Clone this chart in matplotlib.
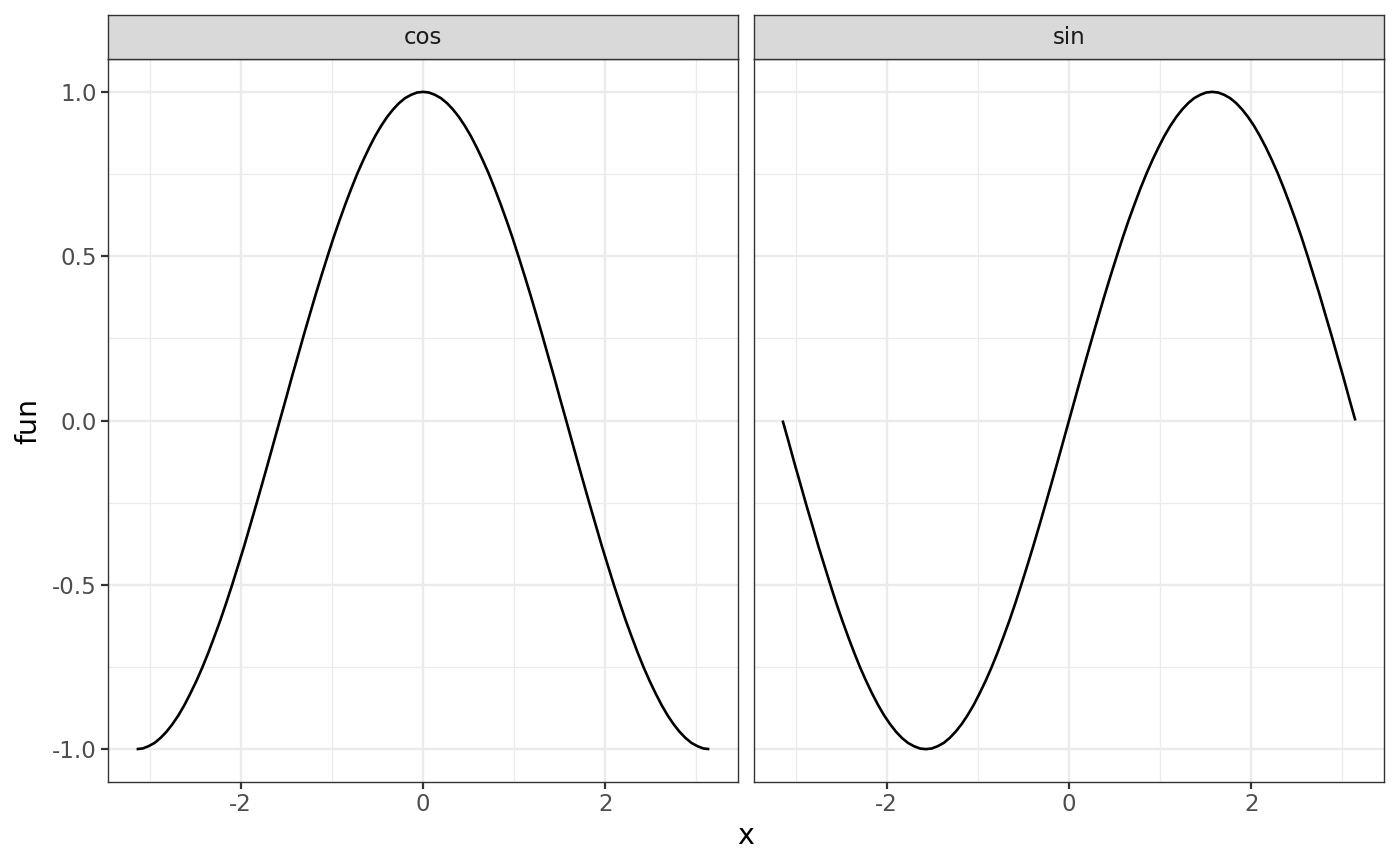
import matplotlib
matplotlib.use('Agg')
from matplotlib import pyplot as plt

# values, x in steps of pi/48
x_vals = [-3.142, -3.076, -3.011, -2.945, -2.880, -2.814, -2.749, -2.683, -2.618,
          -2.553, -2.487, -2.422, -2.356, -2.291, -2.225, -2.160, -2.094, -2.029,
          -1.963, -1.898, -1.833, -1.767, -1.702, -1.636, -1.571, -1.505, -1.440,
          -1.374, -1.309, -1.244, -1.178, -1.113, -1.047, -0.982, -0.916, -0.851,
          -0.785, -0.720, -0.654, -0.589, -0.524, -0.458, -0.393, -0.327, -0.262,
          -0.196, -0.131, -0.065,
          0.000,
          0.065, 0.131, 0.196, 0.262, 0.327, 0.393, 0.458, 0.524, 0.589,
          0.654, 0.720, 0.785, 0.851, 0.916, 0.982, 1.047, 1.113, 1.178,
          1.244, 1.309, 1.374, 1.440, 1.505, 1.571, 1.636, 1.702, 1.767,
          1.833, 1.898, 1.963, 2.029, 2.094, 2.160, 2.225, 2.291, 2.356,
          2.422, 2.487, 2.553, 2.618, 2.683, 2.749, 2.814, 2.880, 2.945,
          3.011, 3.076, 3.142]

cos_vals = [-1.000, -0.998, -0.991, -0.981, -0.966, -0.947, -0.924, -0.897, -0.866,
            -0.831, -0.793, -0.752, -0.707, -0.659, -0.609, -0.556, -0.500, -0.442,
            -0.383, -0.321, -0.259, -0.195, -0.131, -0.065, 0.000, 0.065, 0.131,
            0.195, 0.259, 0.321, 0.383, 0.442, 0.500, 0.556, 0.609, 0.659,
            0.707, 0.752, 0.793, 0.831, 0.866, 0.897, 0.924, 0.947, 0.966,
            0.981, 0.991, 0.998,
            1.000,
            0.998, 0.991, 0.981, 0.966, 0.947, 0.924, 0.897, 0.866, 0.831,
            0.793, 0.752, 0.707, 0.659, 0.609, 0.556, 0.500, 0.442, 0.383,
            0.321, 0.259, 0.195, 0.131, 0.065, 0.000, -0.065, -0.131, -0.195,
            -0.259, -0.321, -0.383, -0.442, -0.500, -0.556, -0.609, -0.659, -0.707,
            -0.752, -0.793, -0.831, -0.866, -0.897, -0.924, -0.947, -0.966, -0.981,
            -0.991, -0.998, -1.000]

sin_vals = [0.000, -0.065, -0.131, -0.195, -0.259, -0.321, -0.383, -0.442, -0.500,
            -0.556, -0.609, -0.659, -0.707, -0.752, -0.793, -0.831, -0.866, -0.897,
            -0.924, -0.947, -0.966, -0.981, -0.991, -0.998, -1.000, -0.998, -0.991,
            -0.981, -0.966, -0.947, -0.924, -0.897, -0.866, -0.831, -0.793, -0.752,
            -0.707, -0.659, -0.609, -0.556, -0.500, -0.442, -0.383, -0.321, -0.259,
            -0.195, -0.131, -0.065,
            0.000,
            0.065, 0.131, 0.195, 0.259, 0.321, 0.383, 0.442, 0.500, 0.556,
            0.609, 0.659, 0.707, 0.752, 0.793, 0.831, 0.866, 0.897, 0.924,
            0.947, 0.966, 0.981, 0.991, 0.998, 1.000, 0.998, 0.991, 0.981,
            0.966, 0.947, 0.924, 0.897, 0.866, 0.831, 0.793, 0.752, 0.707,
            0.659, 0.609, 0.556, 0.500, 0.442, 0.383, 0.321, 0.259, 0.195,
            0.131, 0.065, 0.000]

facets = ['cos', 'sin']
series = {'cos': cos_vals, 'sin': sin_vals}

x_major = [-2, 0, 2]
x_minor = [-3, -1, 1, 3]
y_major = [-1.0, -0.5, 0.0, 0.5, 1.0]
y_minor = [-0.75, -0.25, 0.25, 0.75]

W, H = 1400, 866
fig = plt.figure(figsize=(W / 100, H / 100), dpi=100)
fig.patch.set_facecolor('white')


def px_box(x0, y0, x1, y1):
    return [x0 / W, 1 - y1 / H, (x1 - x0) / W, (y1 - y0) / H]


panel_left = [108, 754]
panel_w = 630
for i, name in enumerate(facets):
    x0 = panel_left[i]
    ax = fig.add_axes(px_box(x0, 59, x0 + panel_w, 782))
    ax.set_xlim(-3.456, 3.456)
    ax.set_ylim(-1.1, 1.1)
    for v in x_minor:
        ax.axvline(v, color='#EBEBEB', lw=0.9, zorder=0)
    for v in y_minor:
        ax.axhline(v, color='#EBEBEB', lw=0.9, zorder=0)
    for v in x_major:
        ax.axvline(v, color='#EBEBEB', lw=1.7, zorder=0)
    for v in y_major:
        ax.axhline(v, color='#EBEBEB', lw=1.7, zorder=0)
    ax.plot(x_vals, series[name], color='black', lw=1.9, zorder=3,
            solid_capstyle='butt')

    ax.set_xticks(x_major)
    ax.set_xticklabels([str(v) for v in x_major])
    ax.set_yticks(y_major)
    if i == 0:
        ax.set_yticklabels(['%.1f' % v for v in y_major])
    else:
        ax.tick_params(axis='y', left=False, labelleft=False)
    ax.tick_params(axis='both', colors='#333333', labelcolor='#4D4D4D',
                   labelsize=16.5, length=5, width=1.6, pad=3)
    for sp in ax.spines.values():
        sp.set_color('#333333')
        sp.set_linewidth(1.0)

    sax = fig.add_axes(px_box(x0, 15, x0 + panel_w, 59))
    sax.set_facecolor('#D9D9D9')
    sax.set_xticks([])
    sax.set_yticks([])
    for sp in sax.spines.values():
        sp.set_color('#333333')
        sp.set_linewidth(1.0)
    sax.text(0.5, 0.5, name, transform=sax.transAxes, ha='center', va='center',
             fontsize=16.5, color='#1A1A1A')

fig.text(746 / W, 1 - 836 / H, 'x', ha='center', va='center', fontsize=20.5, color='black')
fig.text(28 / W, 1 - 421 / H, 'fun', ha='center', va='center', rotation=90,
         fontsize=20.5, color='black')

fig.savefig('out.png', dpi=100)
